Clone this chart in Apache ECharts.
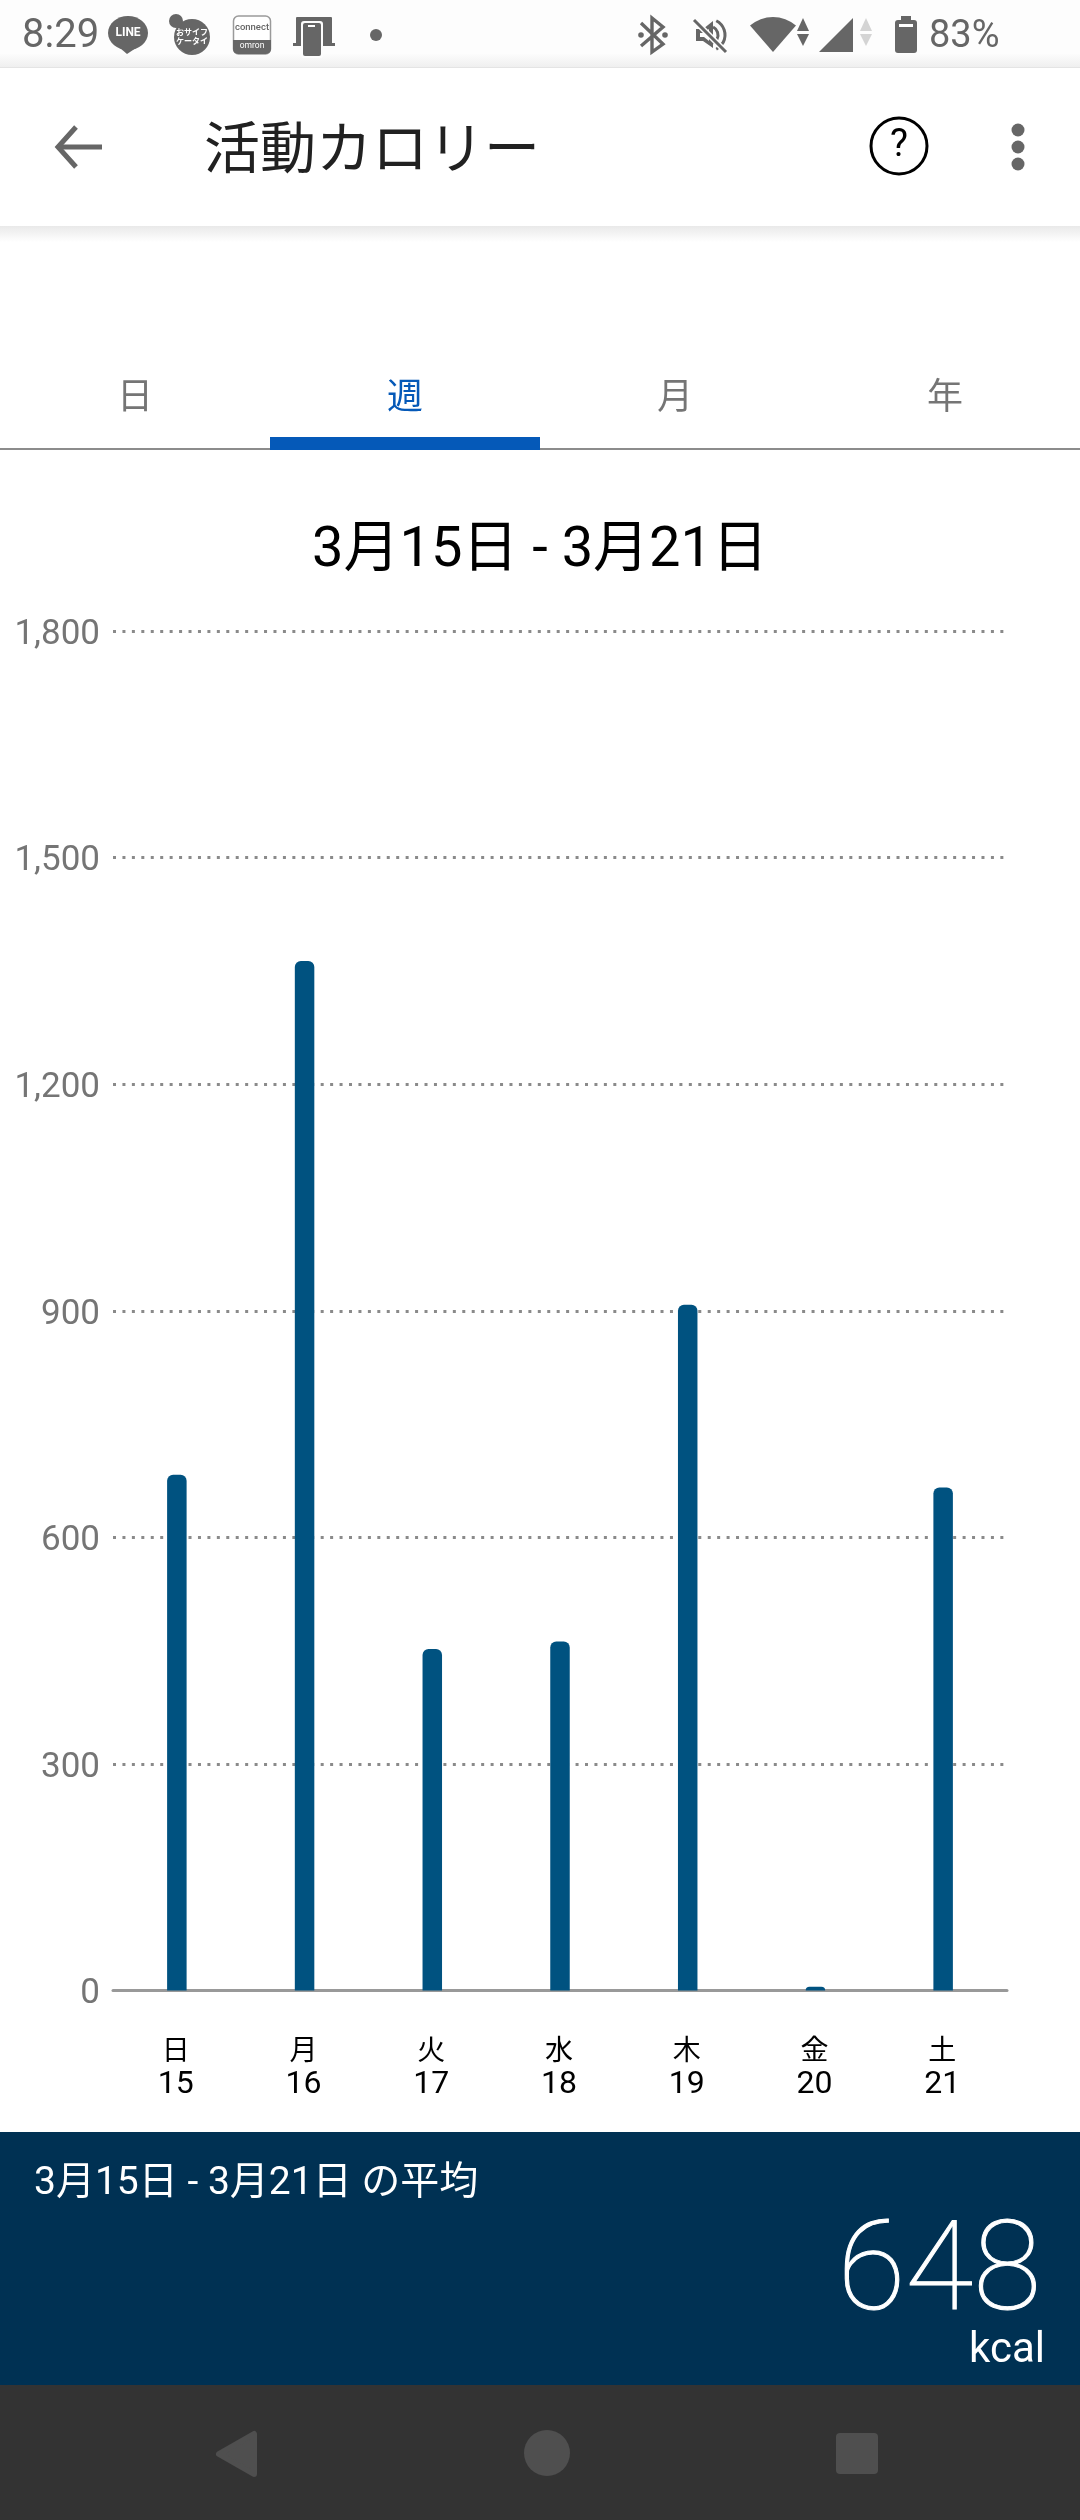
<!DOCTYPE html>
<html lang="ja"><head><meta charset="utf-8">
<script src="https://cdn.jsdelivr.net/npm/echarts@6/dist/echarts.min.js"></script>
<style>html,body{margin:0;padding:0;background:#fff}#c{width:1080px;height:2520px}</style>
</head><body><div id="c"></div>
<script>
const weekdays = ['日','月','火','水','木','金','土'];
const dates = ['15','16','17','18','19','20','21'];
const calories = [683,1363,452,462,908,5,666];
const yMax = 1800, yStep = 300;
const tabs = ['日','週','月','年'];
const activeTab = 1;
const pageTitle = '活動カロリー';
const rangeTitle = '3月15日 - 3月21日';
const avgLabel = '3月15日 - 3月21日 の平均';
const avgValue = '648';
const avgUnit = 'kcal';
const timeText = '8:29', batteryText = '83%';

const CJK = '"Noto Sans CJK JP","Noto Sans",sans-serif';
const LAT = 'Roboto,"Noto Sans CJK JP",sans-serif';
const GREY = '#666666';

const rect=(x,y,w,h,fill,r)=>({type:'rect',shape:{x,y,width:w,height:h,r:r||0},style:{fill},silent:true});
const circ=(cx,cy,r,fill)=>({type:'circle',shape:{cx,cy,r},style:{fill},silent:true});
const poly=(points,fill)=>({type:'polygon',shape:{points},style:{fill},silent:true});
const line=(pts,stroke,lw,cap)=>({type:'polyline',shape:{points:pts},style:{stroke,lineWidth:lw,fill:'none',lineCap:cap||'butt',lineJoin:'miter'},silent:true});
const txt=(x,y,text,size,fill,opt)=>({type:'text',x,y,style:Object.assign({text,font:`${(opt&&opt.weight)||400} ${size}px ${(opt&&opt.family)||CJK}`,fill,align:(opt&&opt.align)||'left',verticalAlign:'middle'},(opt&&opt.style)||{}),silent:true});
const vgrad=(a,b)=>({type:'linear',x:0,y:0,x2:0,y2:1,colorStops:[{offset:0,color:a},{offset:1,color:b}]});

const els=[];
// status bar
els.push(rect(0,0,1080,56,'#fdfdfd'));
els.push(rect(0,54,1080,13,vgrad('#fcfcfc','#efefef')));
els.push(rect(0,67,1080,1,'#e4e4e4'));
els.push(txt(22,37,timeText,40,GREY,{family:LAT}));
// LINE
els.push({type:'ellipse',shape:{cx:128,cy:33,rx:20,ry:17},style:{fill:GREY},silent:true});
els.push(poly([[120,48],[136,48],[127,54]],GREY));
els.push(txt(128,33,'LINE',12,'#fff',{family:LAT,weight:700,align:'center'}));
// osaifu
els.push(circ(192,37,18,GREY));els.push(circ(176,21,7,GREY));
els.push(txt(192,32,'おサイフ',8,'#fff',{align:'center',weight:700}));
els.push(txt(192,41,'ケータイ',8,'#fff',{align:'center',weight:700}));
// connect
els.push({type:'rect',shape:{x:233.5,y:16,width:37,height:38,r:5},style:{fill:'#fff',stroke:'#9a9a9a',lineWidth:1.5},silent:true});
els.push({type:'rect',shape:{x:233,y:40,width:38,height:14,r:[0,0,5,5]},style:{fill:GREY},silent:true});
els.push(txt(252,28,'connect',9.5,GREY,{family:LAT,align:'center',weight:500}));
els.push(txt(252,46,'omron',8.5,'#fff',{family:LAT,align:'center'}));
// device
els.push(rect(296,17,36,27,GREY,1));
els.push(rect(293,43,42,3,GREY));
els.push(rect(301,21,22,37,'#fdfdfd',3));
els.push(rect(303,23,18,33,GREY,2));
els.push(rect(308,25,7,2,'#fff'));
els.push(circ(376,35,6,GREY));
// bluetooth
els.push(line([[641,23],[663,44],[652,52],[652,18],[663,27],[641,46]],GREY,3.4));
els.push(circ(641,35,2.8,GREY));els.push(circ(665,35,2.8,GREY));
// mute
els.push(poly([[696,29],[703,29],[713,21],[713,48],[703,41],[696,41]],GREY));
els.push(poly([[700,33],[704,33],[709,29],[709,41],[704,37],[700,37]],'#fdfdfd'));
els.push({type:'arc',shape:{cx:709,cy:35,r:9,startAngle:-1.1,endAngle:1.1},style:{stroke:GREY,lineWidth:3,fill:'none'},silent:true});
els.push({type:'arc',shape:{cx:709,cy:35,r:16,startAngle:-1.1,endAngle:1.1},style:{stroke:GREY,lineWidth:3,fill:'none'},silent:true});
els.push(line([[694,20],[726,52]],'#fdfdfd',6));
els.push(line([[694,20],[726,52]],GREY,3));
// wifi
els.push({type:'sector',shape:{cx:773,cy:52,r0:0,r:35,startAngle:-Math.PI*0.728,endAngle:-Math.PI*0.272},style:{fill:GREY},silent:true});
els.push(poly([[797,31],[809,31],[803,18]],GREY));
els.push(poly([[797,34],[809,34],[803,46]],GREY));
// signal
els.push(poly([[819,52],[853,52],[853,18]],GREY));
els.push(poly([[860,31],[872,31],[866,18]],'#d4d4d4'));
els.push(poly([[860,34],[872,34],[866,46]],'#d4d4d4'));
// battery
els.push(rect(895,20,22,33,GREY,3));
els.push(rect(901,16,10,5,GREY));
els.push(rect(899,24,14,3,'#fff'));
els.push(txt(929,37,batteryText,38,GREY,{family:LAT}));
// header
els.push(rect(0,68,1080,158,'#ffffff'));
els.push(rect(0,226,1080,16,vgrad('#e9e9e9','#ffffff')));
els.push(line([[76,127],[58,147],[76,167]],GREY,5));
els.push(line([[58,147],[102,147]],GREY,5));
els.push(txt(204,147,pageTitle,56,'#212121'));
els.push({type:'circle',shape:{cx:899,cy:146,r:28},style:{fill:'none',stroke:'#000',lineWidth:3},silent:true});
els.push(txt(899,146,'?',38,'#000',{family:LAT,align:'center'}));
[130,147,164].forEach(y=>els.push(circ(1018,y,6.5,GREY)));
// tabs
tabs.forEach((t,i)=>els.push(txt(135+270*i,395,t,36,i===activeTab?'#0559b8':'#757575',{align:'center'})));
els.push(rect(0,448,1080,2,'#8c8c8c'));
els.push(rect(270,437,270,13,'#0559b8'));
// bottom panel
els.push(rect(0,2132,1080,253,'#003153'));
els.push(txt(34,2184,avgLabel,39,'#fff',{family:LAT}));
els.push(txt(1041,2278,avgValue,124,'#fff',{family:LAT,weight:100,align:'right',style:{stroke:'#fff',lineWidth:1}}));
els.push(txt(1045,2351,avgUnit,42,'#fff',{family:LAT,weight:400,align:'right'}));
// nav bar
els.push(rect(0,2385,1080,135,'#333333'));
els.push({type:'polygon',shape:{points:[[219,2454],[254,2434],[254,2474]]},style:{fill:'#4f4f4f',stroke:'#4f4f4f',lineWidth:6,lineJoin:'round'},silent:true});
els.push(circ(547,2453,23,'#4f4f4f'));
els.push(rect(836,2433,42,41,'#4f4f4f',4));

const chart=echarts.init(document.getElementById('c'),null,{renderer:'canvas',width:1080,height:2520});
chart.setOption({
  animation:false,
  backgroundColor:'#ffffff',
  title:{text:rangeTitle,left:'center',top:514,textStyle:{fontFamily:LAT,fontWeight:400,fontSize:56,color:'#000',lineHeight:66}},
  graphic:{elements:els},
  grid:{left:113,right:73,top:631,bottom:2520-1990.5,containLabel:false},
  xAxis:{type:'category',data:weekdays.map((d,i)=>d+'\n'+dates[i]),
    axisLine:{show:true,lineStyle:{color:'#999999',width:3}},axisTick:{show:false},splitLine:{show:false},
    axisLabel:{interval:0,margin:42,padding:[0,2,0,0],fontFamily:LAT,fontSize:32,lineHeight:33,color:'#000',
      formatter:v=>{const p=v.split('\n');return '{w|'+p[0]+'}\n{d|'+p[1]+'}';},
      rich:{w:{fontFamily:CJK,fontSize:28,lineHeight:33,color:'#000'},d:{fontFamily:LAT,fontSize:32,lineHeight:39,color:'#000'}}}},
  yAxis:{type:'value',min:0,max:yMax,interval:yStep,
    axisLine:{show:false},axisTick:{show:false},
    splitLine:{show:true,lineStyle:{type:[3,6.44],width:3,color:'#8a8a8a'}},
    axisLabel:{margin:13,verticalAlign:'top',lineHeight:8,fontFamily:LAT,fontSize:35,color:'#757575',formatter:v=>v.toLocaleString('en-US')}},
  series:[{type:'bar',data:calories,barWidth:19.5,itemStyle:{color:'#005280',borderRadius:[6,6,0,0]},silent:true,z:3}]
});
</script></body></html>
